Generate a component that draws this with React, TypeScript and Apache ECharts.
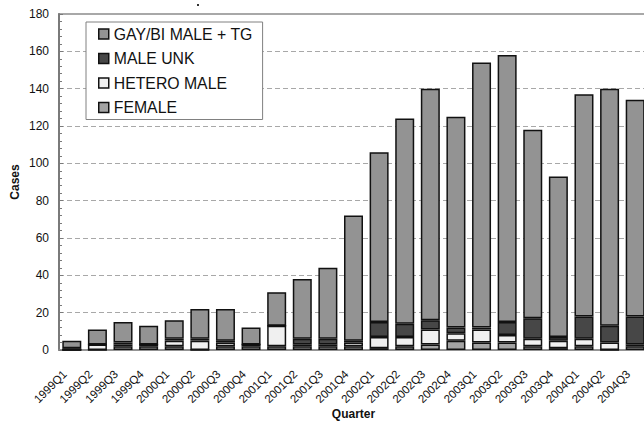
import React, { useEffect, useRef } from "react";
import * as echarts from "echarts";

const quarters = [
  "1999Q1", "1999Q2", "1999Q3", "1999Q4",
  "2000Q1", "2000Q2", "2000Q3", "2000Q4",
  "2001Q1", "2001Q2", "2001Q3", "2001Q4",
  "2002Q1", "2002Q2", "2002Q3", "2002Q4",
  "2003Q1", "2003Q2", "2003Q3", "2003Q4",
  "2004Q1", "2004Q2", "2004Q3",
];

const female = [0, 0, 2, 2, 2, 0, 2, 2, 2, 2, 2, 2, 1, 2, 3, 5, 4, 4, 2, 1, 2, 0, 2];
const heteroMale = [0, 3, 1, 1, 3, 5, 2, 1, 11, 1, 1, 2, 6, 5, 8, 4, 7, 4, 4, 4, 4, 4, 1];
const maleUnk = [1, 0, 1, 0, 1, 1, 1, 0, 0, 3, 3, 1, 8, 7, 5, 3, 1, 7, 11, 2, 12, 9, 15];
const gayBiMaleTg = [4, 8, 11, 10, 10, 16, 17, 9, 18, 32, 38, 67, 91, 110, 124, 113, 142, 143, 101, 86, 119, 127, 116];

const seriesNames = ["FEMALE", "HETERO MALE", "MALE UNK", "GAY/BI MALE + TG"];
const legendOrder = ["GAY/BI MALE + TG", "MALE UNK", "HETERO MALE", "FEMALE"];

const FONT = "'Liberation Sans', Arial, sans-serif";

export default function App() {
  const ref = useRef<HTMLDivElement>(null);

  useEffect(() => {
    if (!ref.current) return;
    const chart = echarts.init(ref.current, null, { renderer: "svg" });
    const colors = ["#a4a4a4", "#f0f0f0", "#474747", "#939393"];
    const datasets = [female, heteroMale, maleUnk, gayBiMaleTg];

    chart.setOption({
      animation: false,
      backgroundColor: "#ffffff",
      textStyle: { fontFamily: FONT },
      grid: {
        left: 59,
        top: 14,
        right: -4,
        bottom: 72,
        containLabel: false,
        outerBoundsMode: "none",
        show: true,
        borderColor: "#8c8c8c",
        borderWidth: 1.5,
        backgroundColor: "transparent",
      },
      graphic: [
        { type: "rect", left: 197, top: 4, shape: { width: 2, height: 2 }, style: { fill: "#333" } },
      ],
      legend: {
        data: legendOrder,
        orient: "vertical",
        left: 86,
        top: 22,
        itemWidth: 10,
        itemHeight: 10,
        itemGap: 8.5,
        icon: "rect",
        padding: [4, 10, 4, 12],
        borderColor: "#808080",
        borderWidth: 1,
        backgroundColor: "#ffffff",
        itemStyle: { borderColor: "#111111", borderWidth: 1.5 },
        textStyle: { fontSize: 15.8, fontFamily: FONT, color: "#111111" },
      },
      xAxis: {
        type: "category",
        data: quarters,
        name: "Quarter",
        nameLocation: "middle",
        nameGap: 58,
        nameMoveOverlap: false,
        nameTextStyle: { fontSize: 12, fontWeight: "bold", color: "#111", fontFamily: FONT },
        axisLine: { lineStyle: { color: "#8c8c8c", width: 1.5 } },
        axisTick: { show: false },
        axisLabel: {
          rotate: 45,
          interval: 0,
          margin: 15,
          padding: [0, 10, 10, 0],
          fontSize: 11.5,
          color: "#111",
          fontFamily: FONT,
        },
      },
      yAxis: {
        type: "value",
        min: 0,
        max: 180,
        interval: 20,
        name: "Cases",
        nameLocation: "middle",
        nameRotate: 90,
        nameGap: 38,
        nameMoveOverlap: false,
        nameTextStyle: { fontSize: 12, fontWeight: "bold", color: "#111", fontFamily: FONT },
        axisLine: { show: true, lineStyle: { color: "#7a7a7a", width: 2 } },
        axisTick: { show: true, inside: true, length: 4, lineStyle: { color: "#7a7a7a" } },
        minorTick: { show: true, splitNumber: 5, length: 3, lineStyle: { color: "#7a7a7a" } },
        axisLabel: { fontSize: 12, color: "#111", margin: 10, fontFamily: FONT },
        splitLine: {
          show: true,
          lineStyle: { color: "#a8a8a8", type: [5, 3], width: 1.2 },
        },
      },
      series: seriesNames.map((name, i) => ({
        name,
        type: "bar",
        stack: "cases",
        barWidth: 19,
        data: datasets[i],
        itemStyle: { color: colors[i], borderColor: "#111111", borderWidth: 1.5 },
      })),
    });

    return () => chart.dispose();
  }, []);

  return (
    <div
      ref={ref}
      style={{ position: "fixed", left: 0, top: 0, width: 644, height: 422, background: "#fff" }}
    />
  );
}
